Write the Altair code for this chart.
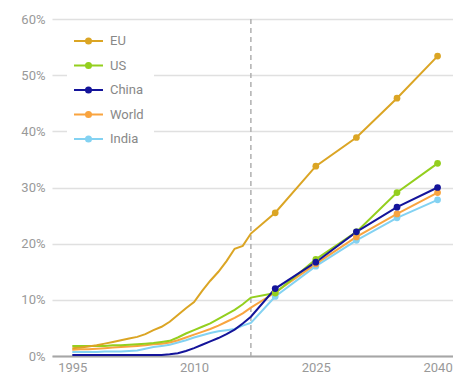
import altair as alt
import pandas as pd

# ---- data -------------------------------------------------------------
hist_years = [1995, 1996, 1997, 1998, 1999, 2000, 2001, 2002, 2003, 2004, 2005, 2006,
              2007, 2008, 2009, 2010, 2011, 2012, 2013, 2014, 2015, 2016, 2017]
proj_years = [2020, 2025, 2030, 2035, 2040]

regions = ["EU", "US", "China", "World", "India"]
colors = ["#DBA524", "#94CF1E", "#14149A", "#F9A43F", "#83D2F2"]
draw_order = ["India", "World", "US", "EU", "China"]

eu_hist = [1.4, 1.5, 1.7, 1.9, 2.2, 2.5, 2.8, 3.1, 3.4, 3.9, 4.6, 5.2,
           6.1, 7.3, 8.5, 9.6, 11.6, 13.4, 15.0, 16.9, 19.1, 19.6, 21.8]
us_hist = [1.8, 1.8, 1.8, 1.8, 1.8, 1.9, 1.9, 2.0, 2.1, 2.2, 2.3, 2.5,
           2.7, 3.3, 4.0, 4.6, 5.2, 5.8, 6.6, 7.4, 8.2, 9.2, 10.4]
china_hist = [0.2, 0.2, 0.2, 0.2, 0.2, 0.2, 0.2, 0.2, 0.2, 0.2, 0.2, 0.2,
              0.3, 0.5, 0.9, 1.4, 2.0, 2.6, 3.2, 3.9, 4.7, 5.8, 7.0]
world_hist = [1.1, 1.2, 1.2, 1.3, 1.4, 1.5, 1.6, 1.7, 1.8, 1.9, 2.1, 2.2,
              2.4, 2.8, 3.3, 3.8, 4.3, 4.8, 5.4, 6.1, 6.8, 7.6, 8.6]
india_hist = [0.7, 0.7, 0.7, 0.7, 0.8, 0.8, 0.8, 0.9, 1.0, 1.3, 1.6, 1.8,
              2.0, 2.4, 2.8, 3.3, 3.7, 4.1, 4.4, 4.6, 4.8, 5.4, 5.9]

eu_proj = [25.5, 33.8, 38.9, 45.9, 53.4]
us_proj = [11.2, 17.2, 22.1, 29.1, 34.3]
china_proj = [12.0, 16.7, 22.1, 26.5, 30.0]
world_proj = [11.3, 16.4, 21.2, 25.3, 29.1]
india_proj = [10.6, 16.0, 20.6, 24.6, 27.8]

divider_year = [2017]
x_ticks = [1995, 2010, 2025, 2040]
y_ticks = [0, 10, 20, 30, 40, 50, 60]

series = {
    "EU": (eu_hist, eu_proj),
    "US": (us_hist, us_proj),
    "China": (china_hist, china_proj),
    "World": (world_hist, world_proj),
    "India": (india_hist, india_proj),
}

rows = []
for order, name in enumerate(draw_order):
    h, p = series[name]
    for y, v in zip(hist_years, h):
        rows.append({"year": y, "region": name, "value": v, "proj": False, "ord": order})
    for y, v in zip(proj_years, p):
        rows.append({"year": y, "region": name, "value": v, "proj": True, "ord": order})
df = pd.DataFrame(rows)

FONT = "Roboto"

x_enc = alt.X("year:Q",
              scale=alt.Scale(domain=[1992.5, 2041.9], nice=False, zero=False),
              axis=alt.Axis(values=x_ticks, format="d", ticks=False, grid=False,
                            domainColor="#a6a6a6", domainWidth=2,
                            labelColor="#999999", labelFontSize=13, labelFont=FONT,
                            labelPadding=5, title=None))
y_enc = alt.Y("value:Q",
              scale=alt.Scale(domain=[0, 60], nice=False),
              axis=alt.Axis(values=y_ticks, labelExpr="datum.value + '%'",
                            ticks=False, domain=False, gridColor="#e0e0e0", gridWidth=1.5,
                            labelColor="#999999", labelFontSize=13, labelFont=FONT,
                            labelPadding=7, title=None))

legend_symbol = ("M-2.07,0H2.07"
                 "M0.36,0A0.36,0.36 0 1,1 -0.36,0A0.36,0.36 0 1,1 0.36,0"
                 "M0.14,0A0.14,0.14 0 1,1 -0.14,0A0.14,0.14 0 1,1 0.14,0")

color_enc = alt.Color("region:N",
                      scale=alt.Scale(domain=regions, range=colors),
                      legend=alt.Legend(orient="none", legendX=15, legendY=4,
                                        fillColor="white", padding=10, title=None,
                                        symbolType=legend_symbol, symbolSize=196,
                                        symbolStrokeWidth=2, symbolOffset=3.5,
                                        labelOffset=13.5, rowPadding=9.5,
                                        labelFontSize=13, labelColor="#888888",
                                        labelFont=FONT))

base = alt.Chart(df)

lines = base.mark_line(strokeWidth=2).encode(
    x=x_enc, y=y_enc, color=color_enc, detail="region:N",
    order=alt.Order("year:Q"))

points = base.transform_filter("datum.proj").mark_point(
    filled=True, size=45, opacity=1).encode(
    x="year:Q", y="value:Q",
    color=alt.Color("region:N", scale=alt.Scale(domain=regions, range=colors), legend=None))

rule = alt.Chart(pd.DataFrame({"year": divider_year})).mark_rule(
    color="#b0b0b0", strokeDash=[5, 4], strokeWidth=1.5).encode(x="year:Q")

chart = alt.layer(rule, lines, points).properties(
    width=401, height=337,
    padding={"left": 52, "top": 19, "right": 0, "bottom": 20},
    autosize=alt.AutoSizeParams(type="none"),
    background="white",
).configure_view(stroke=None)

chart.save("out.html", embed_options={"renderer": "svg", "actions": False})
